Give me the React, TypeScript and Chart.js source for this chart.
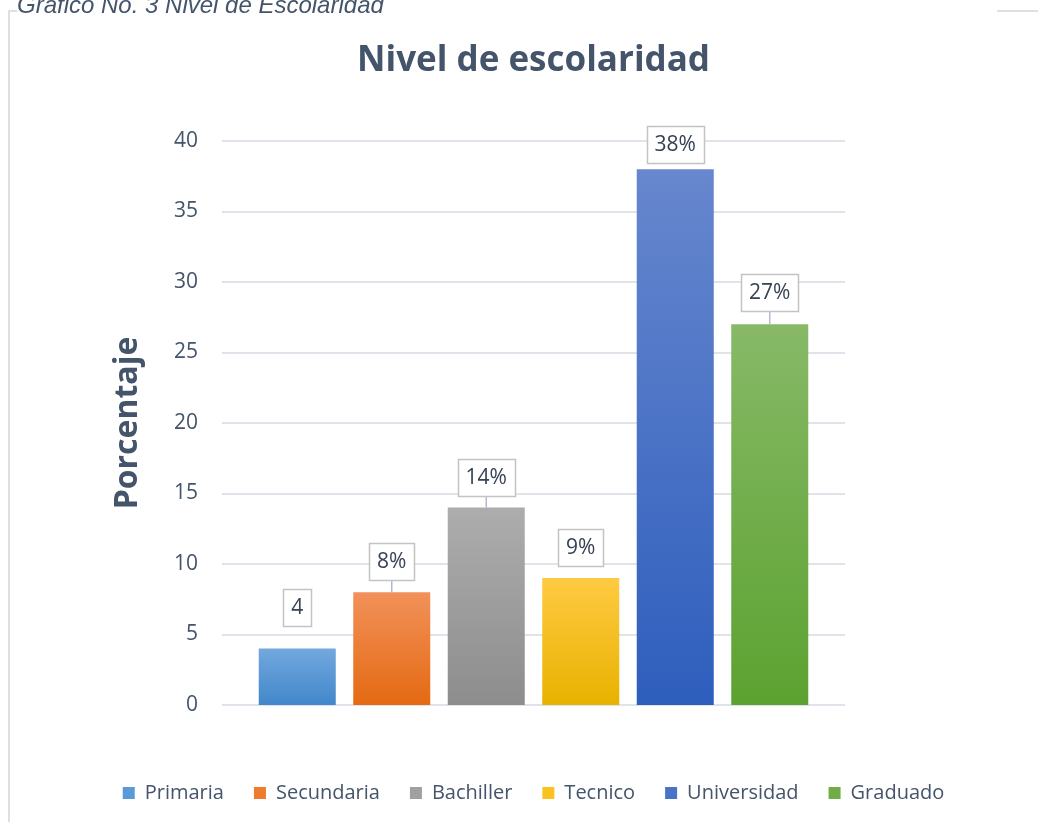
import React, { useEffect, useRef } from "react";
import { Chart, registerables } from "chart.js";

Chart.register(...registerables);

const categories = ["Primaria", "Secundaria", "Bachiller", "Tecnico", "Universidad", "Graduado"];
const values = [4, 8, 14, 9, 38, 27];
const labelTexts = ["4", "8%", "14%", "9%", "38%", "27%"];
const yTickMin = 0;
const yTickMax = 40;
const yTickStep = 5;

const topColors = ["#72a8de", "#f2915a", "#adadad", "#ffca42", "#6787ce", "#87b967"];
const bottomColors = ["#4287ca", "#e46a12", "#8d8d8d", "#e8b200", "#2e5ebd", "#5ca230"];
const legendColors = ["#5a9ad6", "#ee7b2e", "#a0a0a0", "#fbc11e", "#4a72c6", "#70ad47"];

const labelGaps = [23, 12, 12, 12, 6, 13];
const showLeader = [false, true, true, false, false, true];

const TEXT_COLOR = "#44546a";
const FONT = "'Open Sans', 'Noto Sans', sans-serif";

const extendedGrid = {
  id: "extendedGrid",
  beforeDatasetsDraw(chart: any) {
    const { ctx, chartArea, scales } = chart;
    const y = scales.y;
    ctx.save();
    ctx.strokeStyle = "#dfe3ea";
    ctx.lineWidth = 2;
    y.ticks.forEach((t: any) => {
      const py = Math.round(y.getPixelForValue(t.value));
      ctx.beginPath();
      ctx.moveTo(chartArea.left - 28, py);
      ctx.lineTo(chartArea.right + 28, py);
      ctx.stroke();
    });
    ctx.restore();
  },
};

const boxedLabels = {
  id: "boxedLabels",
  afterDatasetsDraw(chart: any) {
    const { ctx } = chart;
    const meta = chart.getDatasetMeta(0);
    ctx.save();
    ctx.font = `21px ${FONT}`;
    meta.data.forEach((bar: any, i: number) => {
      const text = labelTexts[i];
      const w = Math.round(ctx.measureText(text).width + 16);
      const h = 37;
      const bottom = Math.round(bar.y - labelGaps[i]);
      const top = bottom - h;
      const left = Math.round(bar.x - w / 2);
      if (showLeader[i]) {
        ctx.strokeStyle = "#aebbd0";
        ctx.lineWidth = 1.5;
        ctx.beginPath();
        ctx.moveTo(bar.x, bottom);
        ctx.lineTo(bar.x, bar.y);
        ctx.stroke();
      }
      ctx.fillStyle = "#ffffff";
      ctx.fillRect(left, top, w, h);
      ctx.strokeStyle = "#c3c3c3";
      ctx.lineWidth = 1.5;
      ctx.strokeRect(left + 0.5, top + 0.5, w, h);
      ctx.fillStyle = "#364253";
      ctx.textAlign = "center";
      ctx.textBaseline = "middle";
      ctx.fillText(text, bar.x, top + h / 2 + 1);
    });
    ctx.restore();
  },
};

export default function App() {
  const canvasRef = useRef<HTMLCanvasElement | null>(null);

  useEffect(() => {
    if (!canvasRef.current) return;
    Chart.defaults.font.family = FONT;
    const chart = new Chart(canvasRef.current, {
      type: "bar",
      data: {
        labels: categories,
        datasets: [
          {
            label: "Nivel de escolaridad",
            data: values,
            categoryPercentage: 1,
            barPercentage: 0.815,
            borderWidth: 0,
            backgroundColor: (c: any) => {
              const chart = c.chart;
              const i = c.dataIndex ?? 0;
              if (!chart.chartArea || c.type !== "data") return legendColors[i];
              const y = chart.scales.y;
              const top = y.getPixelForValue(c.raw);
              const bottom = y.getPixelForValue(0);
              const g = chart.ctx.createLinearGradient(0, top, 0, bottom);
              g.addColorStop(0, topColors[i]);
              g.addColorStop(1, bottomColors[i]);
              return g;
            },
          },
        ],
      },
      options: {
        responsive: false,
        animation: false,
        devicePixelRatio: 1,
        layout: { padding: { top: 0, left: 29, right: 0, bottom: 9 } },
        plugins: {
          tooltip: { enabled: false },
          title: {
            display: true,
            text: "Nivel de escolaridad",
            color: TEXT_COLOR,
            font: { size: 35, weight: "bold", family: FONT },
            padding: { top: 40, bottom: 59 },
          },
          legend: {
            display: true,
            position: "bottom",
            onClick: () => {},
            labels: {
              boxWidth: 12,
              boxHeight: 12,
              padding: 30,
              color: TEXT_COLOR,
              font: { size: 20, family: FONT },
              generateLabels: () =>
                categories.map((c, i) => ({
                  text: c,
                  fillStyle: legendColors[i],
                  strokeStyle: legendColors[i],
                  lineWidth: 0,
                  hidden: false,
                  index: i,
                  datasetIndex: 0,
                  fontColor: TEXT_COLOR,
                })),
            },
          },
        },
        scales: {
          x: {
            type: "category",
            display: true,
            grid: { display: false },
            border: { display: false },
            ticks: { display: false },
            afterFit: (s: any) => {
              s.height = 48;
            },
          },
          y: {
            type: "linear",
            position: "left",
            min: yTickMin,
            max: yTickMax,
            grid: { display: false },
            border: { display: false },
            ticks: {
              stepSize: yTickStep,
              padding: 44,
              color: TEXT_COLOR,
              font: { size: 21, family: FONT },
            },
            title: {
              display: true,
              text: "Porcentaje",
              color: TEXT_COLOR,
              font: { size: 32, weight: "bold", family: FONT },
              padding: { top: 80, bottom: 0 },
            },
            afterFit: (s: any) => {
              s.width = 221;
            },
          },
          yRight: {
            type: "linear",
            position: "right",
            display: true,
            grid: { display: false },
            border: { display: false },
            ticks: { display: false },
            afterFit: (s: any) => {
              s.width = 221;
            },
          },
        },
      } as any,
      plugins: [extendedGrid, boxedLabels],
    });
    return () => chart.destroy();
  }, []);

  return (
    <div style={{ position: "absolute", left: 0, top: 0, width: 1038, height: 822, overflow: "hidden", background: "#ffffff" }}>
      <div style={{ position: "absolute", left: 8, top: 10, width: 2, height: 812, background: "#dcdfe4" }} />
      <div style={{ position: "absolute", left: 8, top: 10, width: 9, height: 2, background: "#dcdfe4" }} />
      <div style={{ position: "absolute", left: 997, top: 10, width: 41, height: 2, background: "#dcdfe4" }} />
      <canvas ref={canvasRef} width={1038} height={822} style={{ position: "absolute", left: 0, top: 0 }} />
      <span
        style={{
          position: "absolute",
          left: 17,
          top: -9,
          fontFamily: "'Liberation Sans', Arial, sans-serif",
          fontStyle: "italic",
          fontSize: 24,
          lineHeight: "28px",
          color: TEXT_COLOR,
          whiteSpace: "nowrap",
        }}
      >
        Gráfico No. 3 Nivel de Escolaridad
      </span>
    </div>
  );
}
